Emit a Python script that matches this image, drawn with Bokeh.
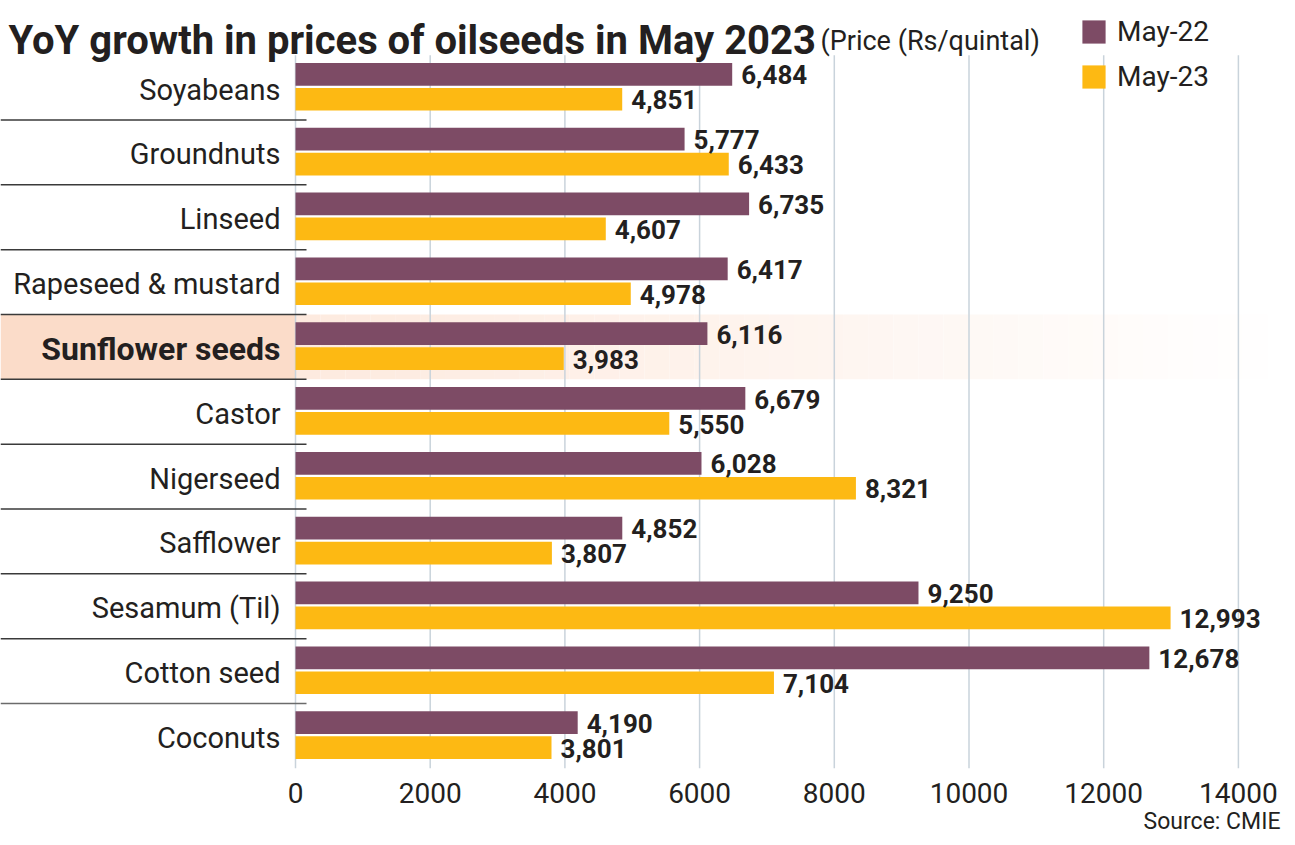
from bokeh.plotting import figure
from bokeh.models import Range1d, FixedTicker, Label, Legend, LegendItem, Title, ColumnDataSource
from bokeh.core.properties import value
from bokeh.embed import file_html
from bokeh.resources import INLINE
import numpy as np

categories = ["Soyabeans", "Groundnuts", "Linseed", "Rapeseed & mustard", "Sunflower seeds",
              "Castor", "Nigerseed", "Safflower", "Sesamum (Til)", "Cotton seed", "Coconuts"]
may22 = [6484, 5777, 6735, 6417, 6116, 6679, 6028, 4852, 9250, 12678, 4190]
may23 = [4851, 6433, 4607, 4978, 3983, 5550, 8321, 3807, 12993, 7104, 3801]
ticks = [0, 2000, 4000, 6000, 8000, 10000, 12000, 14000]
tick_labels = ["0", "2000", "4000", "6000", "8000", "10000", "12000", "14000"]
highlight = "Sunflower seeds"

FONT = "Roboto"
PURPLE = "#7d4b65"
YELLOW = "#fdb913"
INK = "#231f20"
GRID = "#c9d3db"

W, H = 1295, 845
FRAME_H = 770
PX_PER_X = 0.06735
X0_PX = 295.0
ROW_PX = 64.83
ROW0_PX = 87.1

def dx(px):
    return (px - X0_PX) / PX_PER_X

def dy(py):
    return (py - ROW0_PX) / ROW_PX

n = len(categories)
idx = np.arange(n)

p = figure(width=W, height=H, output_backend="svg", toolbar_location=None,
           x_range=Range1d(dx(0), dx(W)), y_range=Range1d(dy(FRAME_H), dy(0)),
           y_axis_location=None, min_border_left=0, min_border_right=0,
           min_border_top=0, min_border_bottom=H - FRAME_H)
p.outline_line_color = None
p.xgrid.grid_line_color = None
p.ygrid.grid_line_color = None
p.background_fill_color = "white"
p.border_fill_color = "white"

# highlight band (gradient)
hi = categories.index(highlight)
p.quad(left=[dx(0)], right=[0], bottom=[hi + 0.5], top=[hi - 0.5],
       fill_color="#fbdcc9", line_color=None)
steps = 40
edges = np.linspace(0, dx(1292), steps + 1)
c0 = np.array([0xfd, 0xea, 0xdf]); c1 = np.array([0xff, 0xff, 0xff])
cols = []
for k in range(steps):
    t = k / (steps - 1)
    c = (c0 * (1 - t) + c1 * t).round().astype(int)
    cols.append("#%02x%02x%02x" % tuple(c))
p.quad(left=edges[:-1], right=edges[1:], bottom=[hi + 0.5] * steps, top=[hi - 0.5] * steps,
       fill_color=cols, line_color=None)

# gridlines
p.segment(x0=ticks, x1=ticks, y0=[-0.5] * len(ticks), y1=[n - 0.5] * len(ticks),
          line_color=GRID, line_width=1.5)

# separators
seps = idx[:-1] + 0.5
sep_cols = ["#3a3a3a"] * (len(seps) - 1) + ["#6b6b6b"]
p.segment(x0=[dx(0)] * len(seps), x1=[dx(306)] * len(seps), y0=seps, y1=seps,
          line_color=sep_cols, line_width=1.5)

# bars
r22 = p.hbar(y=idx - 0.205, left=0, right=may22, height=0.35, fill_color=PURPLE, line_color=None)
r23 = p.hbar(y=idx + 0.18, left=0, right=may23, height=0.35, fill_color=YELLOW, line_color=None)

# value labels
fmt = lambda v: f"{v:,}"
p.text(x=may22, y=idx - 0.195, text=[fmt(v) for v in may22], x_offset=9,
       text_font=value(FONT), text_font_style="bold", text_font_size="26px",
       text_baseline="middle", text_align="left", text_color=INK)
p.text(x=may23, y=idx + 0.19, text=[fmt(v) for v in may23], x_offset=9,
       text_font=value(FONT), text_font_style="bold", text_font_size="26px",
       text_baseline="middle", text_align="left", text_color=INK)

# category labels
styles = ["bold" if c == highlight else "normal" for c in categories]
sizes = ["32px" if c == highlight else "29px" for c in categories]
src = ColumnDataSource(dict(x=[0] * n, y=idx + 0.03, t=categories, s=styles, z=sizes))
p.text(x="x", y="y", text="t", source=src, x_offset=-15, text_font=value(FONT),
       text_font_style="s", text_font_size="z", text_baseline="middle",
       text_align="right", text_color=INK)

# title
p.add_layout(Label(x=dx(8), y=dy(40), text="YoY growth in prices of oilseeds in May 2023",
                   text_font=FONT, text_font_style="bold", text_font_size="40px",
                   text_baseline="alphabetic", text_color=INK))
p.add_layout(Label(x=dx(820), y=dy(40), text="(Price (Rs/quintal)",
                   text_font=FONT, text_font_size="27px",
                   text_baseline="alphabetic", text_color=INK))

# legend
leg = Legend(items=[LegendItem(label="May-22", renderers=[r22]),
                    LegendItem(label="May-23", renderers=[r23])],
             location=(1079, FRAME_H - 93), orientation="vertical",
             glyph_width=29, glyph_height=29, spacing=12, label_standoff=9,
             label_height=32, padding=0, margin=0, border_line_color=None,
             background_fill_alpha=0, label_text_font=FONT, label_text_font_size="28px",
             label_text_color=INK)
p.add_layout(leg)

# axis
ax = p.xaxis[0]
ax.ticker = FixedTicker(ticks=ticks)
ax.major_label_overrides = {t: l for t, l in zip(ticks, tick_labels)}
ax.axis_line_color = None
ax.major_tick_line_color = None
ax.minor_tick_line_color = None
ax.major_label_standoff = 6
ax.major_label_text_font = FONT
ax.major_label_text_font_size = "28px"
ax.major_label_text_color = INK

p.add_layout(Title(text="Source: CMIE", align="right", text_font=FONT,
                   text_font_size="23px", text_font_style="normal",
                   text_color=INK, standoff=0, offset=15), "below")

open("out.html", "w").write(file_html(p, INLINE))
